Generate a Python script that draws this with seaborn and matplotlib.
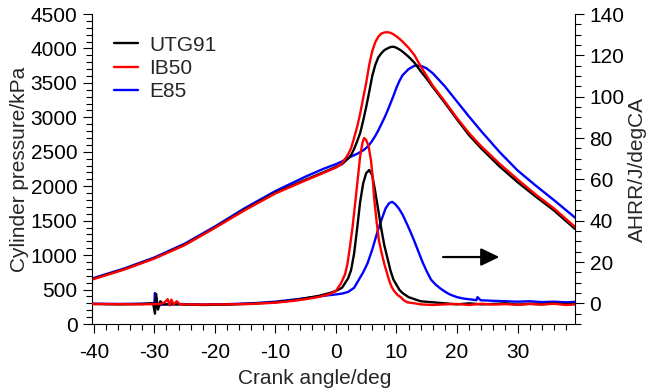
import numpy as np
import pandas as pd
import matplotlib
matplotlib.use('Agg')
import matplotlib.pyplot as plt
from matplotlib.ticker import MultipleLocator
import seaborn as sns

# Cylinder pressure (kPa) vs crank angle
theta_p = [-40.3, -35, -30, -25, -20, -15, -10, -5, -2, 0, 1, 2, 2.5, 3, 3.5, 4, 4.5,
           5, 5.5, 6, 6.5, 7, 7.5, 8, 8.5, 9, 9.5, 10, 10.5, 11, 12, 13, 14, 15, 16,
           18, 20, 22, 24, 27, 30, 33, 36, 39.5]
p_utg91 = [650, 795, 955, 1150, 1400, 1665, 1905, 2095, 2205, 2280, 2320, 2400, 2450,
           2540, 2650, 2770, 2950, 3150, 3370, 3600, 3760, 3870, 3930, 3975, 4000, 4020,
           4025, 4010, 3985, 3955, 3880, 3790, 3670, 3560, 3440, 3210, 2970, 2740, 2550,
           2290, 2060, 1850, 1650, 1380]
p_ib50 = [645, 790, 950, 1145, 1395, 1655, 1895, 2085, 2195, 2270, 2330, 2460, 2550,
          2700, 2860, 3050, 3280, 3500, 3760, 3960, 4090, 4170, 4215, 4232, 4235, 4228,
          4205, 4175, 4140, 4100, 4010, 3900, 3740, 3600, 3460, 3230, 2990, 2770, 2580,
          2330, 2100, 1880, 1680, 1410]
p_e85 = [660, 805, 965, 1165, 1415, 1685, 1930, 2140, 2255, 2320, 2360, 2410, 2430,
         2450, 2470, 2495, 2520, 2555, 2600, 2660, 2730, 2810, 2900, 2990, 3090, 3200,
         3310, 3430, 3530, 3610, 3700, 3750, 3750, 3710, 3640, 3450, 3230, 3010, 2800,
         2500, 2230, 2010, 1800, 1545]

# Apparent heat release rate (J/degCA)
theta_h_utg91 = [-40.3, -36, -32, -30.2, -29.9, -29.7, -29.4, -29.0, -28.5, -26, -22,
                 -18, -14, -10, -7, -5, -3, -1, 0, 1, 2, 2.5, 3, 3.5, 4, 4.5, 5, 5.5,
                 6, 6.5, 7, 7.5, 8, 8.5, 9, 9.5, 10, 10.5, 11, 12, 13, 14, 16, 18, 20,
                 22, 24, 26, 28, 30, 32, 34, 36, 38, 39.5]
h_utg91 = [-0.3, -0.5, -0.3, 0, -5, 4.5, -3, 1, -0.5, -0.5, -0.8, -0.6, -0.2, 0.5, 1.5,
           2.5, 3.5, 5, 6, 7.5, 12, 16, 24, 36, 49, 58, 63, 64.5, 62, 54, 45, 36, 28,
           22, 16, 11.5, 9, 6.5, 5, 3, 2, 1, 0.5, 0, -0.5, 0, -0.5, -0.3, 0, -0.6,
           -0.2, -0.5, 0, -0.4, -0.3]

theta_h_ib50 = [-40.3, -36, -32, -29, -28.3, -27.8, -27.5, -27.2, -26.8, -26.3, -25.8,
                -22, -18, -14, -10, -7, -5, -3, -1, 0, 0.8, 1.5, 1.9, 2.3, 2.75, 3.2,
                3.6, 4.0, 4.4, 4.67, 5.0, 5.4, 5.8, 6.1, 6.3, 6.7, 7.1, 7.5, 8.0, 8.4,
                8.8, 9.2, 9.6, 10.2, 10.7, 11.2, 11.8, 13, 14, 16, 18, 20, 22, 24, 26,
                28, 30, 32, 34, 36, 38, 39.5]
h_ib50 = [-0.3, -0.4, -0.5, -0.3, 0.5, 2, -1, 1.8, -0.5, 1, -0.5, -0.6, -0.5, -0.3, 0.3,
          1.2, 2, 3, 4.5, 6, 9.5, 14, 19, 27, 37, 49, 60, 71, 78, 80, 79, 76, 69, 60,
          51.5, 40, 30.5, 25, 19, 15, 11, 8, 6, 4, 3, 1.5, 0.5, 0, -0.5, -0.8, -0.5,
          -0.3, -0.8, -0.2, -0.6, -0.4, -0.7, -0.3, -0.6, -0.2, -0.8, -0.5]

theta_h_e85 = [-40.3, -36, -32, -30.0, -29.9, -29.7, -29.3, -28.5, -26, -22, -18, -14,
               -10, -7, -5, -3, -1, 0, 1, 2, 3, 3.6, 4.5, 5.2, 6, 6.9, 7.6, 8.2, 8.8,
               9.3, 9.8, 10.4, 11.0, 11.8, 12.4, 12.9, 13.5, 14.3, 15, 15.7, 16.5, 17.3,
               18.1, 18.9, 20, 21.1, 22.5, 23.2, 23.4, 23.9, 26, 28, 30, 32, 34, 36, 38,
               39.5]
h_e85 = [-0.2, -0.3, -0.2, 0, 5, -2, -1, -0.5, -0.3, -0.6, -0.4, 0, 0.8, 1.8, 2.5, 3.3,
         4, 4.3, 4.7, 5.5, 7.5, 10.5, 15, 19.2, 26, 35, 41, 45.9, 48.5, 49.1, 48, 45.9,
         43, 38, 34, 30.5, 26, 20, 15.5, 11.5, 9, 7.1, 5.5, 4.2, 3, 2.3, 1.8, 1.5, 3,
         1.5, 1.2, 1.0, 0.8, 1.0, 0.6, 0.8, 0.5, 0.7]

fuels = ['UTG91', 'IB50', 'E85']
colors = {'UTG91': 'black', 'IB50': 'red', 'E85': 'blue'}

sns.set_style('ticks')
plt.rcParams['font.family'] = ['Liberation Sans', 'DejaVu Sans']
plt.rcParams['axes.unicode_minus'] = False
plt.rcParams['font.size'] = 15

fig = plt.figure(figsize=(6.49, 3.92), dpi=100)
ax = fig.add_axes([92 / 649, 1 - 324 / 392, 483 / 649, 310 / 392])
ax2 = ax.twinx()

pressure = {'UTG91': p_utg91, 'IB50': p_ib50, 'E85': p_e85}
ahrr = {'UTG91': (theta_h_utg91, h_utg91), 'IB50': (theta_h_ib50, h_ib50),
        'E85': (theta_h_e85, h_e85)}

lw = 1.7
for f in ['E85', 'UTG91', 'IB50']:
    sns.lineplot(x=theta_p, y=pressure[f], color=colors[f], lw=lw, label=f, ax=ax,
                 legend=False)
    sns.lineplot(x=ahrr[f][0], y=ahrr[f][1], color=colors[f], lw=lw, ax=ax2,
                 legend=False)

ax.set_xlim(-40.3, 39.5)
ax.set_ylim(0, 4500)
ax2.set_ylim(-10, 140)

ax.xaxis.set_major_locator(MultipleLocator(10))
ax.xaxis.set_minor_locator(MultipleLocator(2))
ax.yaxis.set_major_locator(MultipleLocator(500))
ax.yaxis.set_minor_locator(MultipleLocator(100))
ax2.yaxis.set_major_locator(MultipleLocator(20))
ax2.yaxis.set_minor_locator(MultipleLocator(5))

for a in (ax, ax2):
    a.spines['top'].set_visible(False)
    for s in a.spines.values():
        s.set_linewidth(0.8)
        s.set_color('black')
    a.tick_params(which='major', direction='out', length=6.5, width=0.8,
                  colors='black', labelsize=15, pad=4)
    a.tick_params(which='minor', direction='out', length=4, width=0.8, colors='black')
ax.tick_params(axis='x', which='major', pad=7)
ax.spines['right'].set_visible(False)
ax2.spines['left'].set_visible(False)
ax2.spines['bottom'].set_visible(False)

ax.set_xlabel('Crank angle/deg', fontsize=15, x=0.462, labelpad=5)
ax.set_ylabel('Cylinder pressure/kPa', fontsize=15, labelpad=1)
ax2.set_ylabel('AHRR/J/degCA', fontsize=15, labelpad=2)

# direction arrow (curves below belong to the right axis)
ax2.annotate('', xy=(27.0, 22.4), xytext=(17.7, 22.4),
             arrowprops=dict(arrowstyle='-|>,head_length=0.56,head_width=0.27',
                             color='black', lw=1.6, mutation_scale=20,
                             shrinkA=0, shrinkB=0))

lines = {l.get_label(): l for l in ax.get_lines()}
ax.legend([lines[f] for f in fuels], fuels, loc='upper left',
          bbox_to_anchor=(0.0455, 0.93), frameon=False, fontsize=15,
          handlelength=1.15, handletextpad=0.55, labelspacing=0.2,
          borderpad=0, borderaxespad=0)

fig.savefig('out.png', dpi=100)
